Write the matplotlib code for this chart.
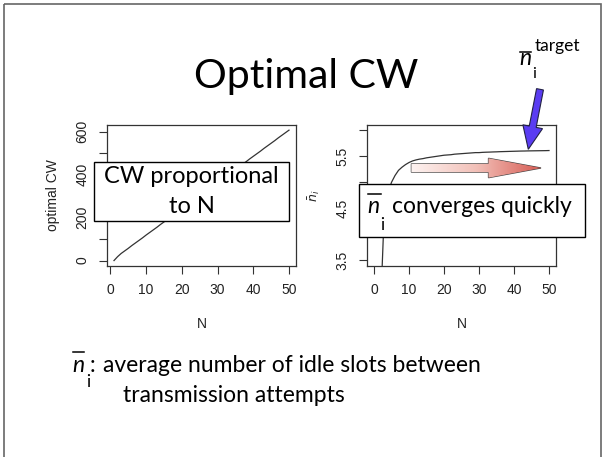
import numpy as np
import matplotlib
matplotlib.use('Agg')
from matplotlib import pyplot as plt
from matplotlib.patches import FancyArrow, Rectangle
from matplotlib.colors import LinearSegmentedColormap

# data
N_cw = list(range(1, 51))
cw_opt = [0, 18, 33, 45, 57, 70, 82, 94, 106, 119, 131, 143, 155, 168, 180, 192, 204,
          217, 229, 241, 253, 266, 278, 290, 302, 315, 327, 339, 351, 363, 376, 388,
          400, 412, 425, 437, 449, 461, 474, 486, 498, 510, 523, 535, 547, 559, 572,
          584, 596, 608]
N_ni = list(range(2, 51))
n_idle = [2.8, 4.55, 4.8, 5.0, 5.13, 5.23, 5.29, 5.34, 5.38, 5.41, 5.43, 5.445, 5.455,
          5.47, 5.48, 5.49, 5.50, 5.51, 5.52, 5.525, 5.53, 5.54, 5.545, 5.55, 5.555,
          5.56, 5.565, 5.57, 5.57, 5.575, 5.578, 5.58, 5.583, 5.585, 5.588, 5.59,
          5.592, 5.594, 5.596, 5.598, 5.6, 5.601, 5.603, 5.604, 5.605, 5.606, 5.607,
          5.608, 5.61]
x_ticks = [0, 10, 20, 30, 40, 50]
cw_ticks = [0, 100, 200, 300, 400, 500, 600]
cw_labels = ['0', '', '200', '', '400', '', '600']
ni_ticks = [3.5, 4.0, 4.5, 5.0, 5.5, 6.0]
ni_labels = ['3.5', '', '4.5', '', '5.5', '']

W, H = 606, 457
R_FONT = 'Liberation Sans'
SLIDE = 'Lato'
INK = '#222222'
BODY = 16.5

fig = plt.figure(figsize=(W / 100, H / 100), dpi=100)

def box(x0, y0, x1, y1):
    # pixel box (y down) -> figure fraction
    return [x0 / W, 1 - y1 / H, (x1 - x0) / W, (y1 - y0) / H]

def r_style(ax, xlim, ylim, yt, ytl):
    ax.set_xlim(xlim)
    ax.set_ylim(ylim)
    ax.set_xticks(x_ticks)
    ax.set_xticklabels([str(v) for v in x_ticks], family=R_FONT, fontsize=10, color=INK)
    ax.set_yticks(yt)
    ax.set_yticklabels(ytl, family=R_FONT, fontsize=10, color=INK, rotation=90, va='center')
    ax.tick_params(direction='out', length=5.5, width=0.8, color='#333333')
    ax.tick_params(axis='x', pad=7)
    ax.tick_params(axis='y', pad=7)
    for s in ax.spines.values():
        s.set_color('#333333')
        s.set_linewidth(0.9)

# left panel
ax1 = fig.add_axes(box(107, 125, 296, 265.7))
ax1.plot(N_cw, cw_opt, color='#333333', lw=0.9)
r_style(ax1, (-0.96, 51.96), (-24, 632), cw_ticks, cw_labels)
ax1.set_xlabel('N', family=R_FONT, fontsize=10, color=INK, labelpad=14)
ax1.set_ylabel('optimal CW', family=R_FONT, fontsize=10, color=INK, labelpad=11)

# right panel
ax2 = fig.add_axes(box(367, 125, 556, 265.7))
ax2.plot(N_ni, n_idle, color='#333333', lw=0.9)
r_style(ax2, (-2, 52), (3.4, 6.1), ni_ticks, ni_labels)
ax2.set_xlabel('N', family=R_FONT, fontsize=10, color=INK, labelpad=14)
ax2.set_ylabel(r'$\bar{n}_i$', fontsize=9, color=INK, labelpad=10)

# overlay in pixel coordinates for the slide decorations
ov = fig.add_axes([0, 0, 1, 1], zorder=10)
ov.set_xlim(0, W)
ov.set_ylim(H, 0)
ov.axis('off')
ov.patch.set_alpha(0)

ov.add_patch(Rectangle((4, 4), 597, 470, fill=False, ec='#666666', lw=1.2))

ov.text(306, 88, 'Optimal CW', family=SLIDE, fontsize=29.5, color='black',
        ha='center', va='baseline')

def nbar(x, y, size, bar_dy, bar_w, sub_dx, sub_dy, sub_size):
    ov.text(x, y, 'n', family=SLIDE, style='italic', fontsize=size, color='black',
            va='baseline', ha='left')
    ov.plot([x + 0.5, x + 0.5 + bar_w], [y - bar_dy] * 2, color='black', lw=1.1)
    ov.text(x + sub_dx, y + sub_dy, 'i', family=SLIDE, fontsize=sub_size, color='black',
            va='baseline', ha='left')

# text boxes
ov.add_patch(Rectangle((93.7, 161.7), 195.6, 59, fc='white', ec='black', lw=1))
ov.text(191.5, 183.3, 'CW proportional', family=SLIDE, fontsize=BODY + 0.5, ha='center',
        va='baseline', color='black')
ov.text(191.5, 212.7, 'to N', family=SLIDE, fontsize=BODY + 0.5, ha='center',
        va='baseline', color='black')

ov.add_patch(Rectangle((359.3, 184.3), 225.6, 53, fc='white', ec='black', lw=1))
nbar(367, 213.3, BODY, 19.5, 13, 13, 16.5, 12.5)
ov.text(392, 213.3, 'converges quickly', family=SLIDE, fontsize=BODY, ha='left',
        va='baseline', color='black')

# target label
nbar(519, 65, BODY, 13.5, 11, 13, 13, 11.5)
ov.text(534.4, 50.5, 'target', family=SLIDE, fontsize=12.5, ha='left', va='baseline',
        color='black')

# blue arrow
blue = FancyArrow(540, 89.3, -11.7, 60, width=7, head_width=20, head_length=23,
                  length_includes_head=True, fc='#5a3cf2', ec='#222244', lw=0.8)
ov.add_patch(blue)

# pink gradient arrow
pink = FancyArrow(411.4, 168, 129.6, 0, width=8.3, head_width=19.4, head_length=52.5,
                  length_includes_head=True, fc='none', ec='#444444', lw=0.9)
ov.add_patch(pink)
grad = np.linspace(0, 1, 256).reshape(1, -1)
cmap = LinearSegmentedColormap.from_list('pk', ['#fdf3f1', '#f2c0b8', '#d65a52'])
im = ov.imshow(grad, extent=[411, 542, 178, 158], cmap=cmap, aspect='auto', zorder=1)
im.set_clip_path(pink)
ov.set_xlim(0, W)
ov.set_ylim(H, 0)

# footnote
nbar(72, 371.7, BODY, 19.5, 11.5, 14, 15, 12.5)
ov.text(89.5, 371.7, ':', family=SLIDE, fontsize=BODY, va='baseline', color='black')
ov.text(102.7, 371.7, 'average number of idle slots between', family=SLIDE, fontsize=BODY,
        va='baseline', color='black')
ov.text(123.3, 401.5, 'transmission attempts', family=SLIDE, fontsize=BODY,
        va='baseline', color='black')

fig.savefig('out.png', dpi=100)
